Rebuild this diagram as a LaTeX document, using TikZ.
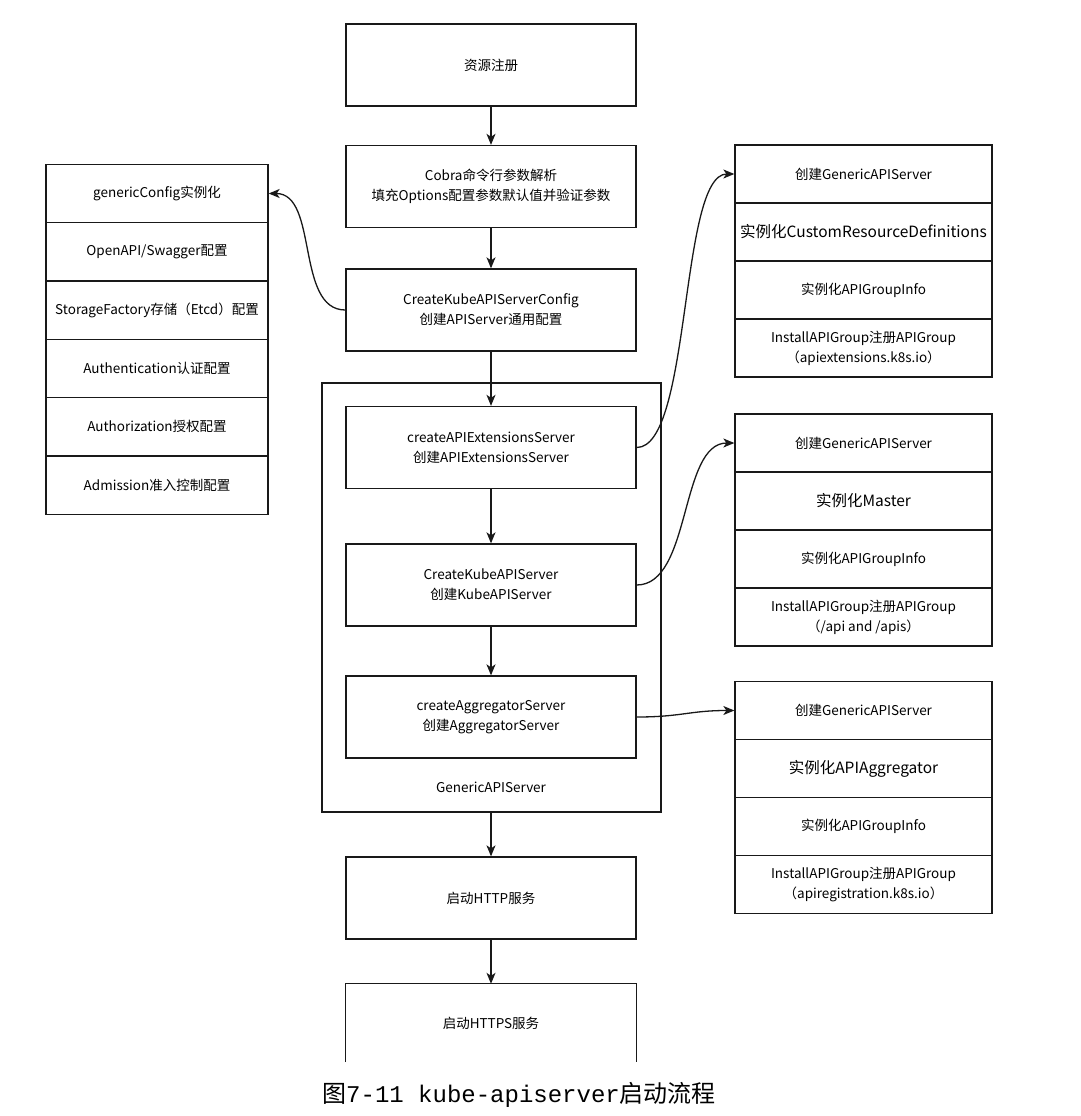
\documentclass[tikz,border=0pt]{standalone}
\usepackage{fontspec}
\setmainfont{Noto Sans CJK SC}
\newfontfamily\capcjk{Noto Sans CJK SC}
\newfontfamily\capmono{Liberation Mono}
\usetikzlibrary{arrows.meta}
\tikzset{
  lw/.style={line width=1.3pt, draw=black!90},
  txt/.style={font=\fontsize{13.5}{20}\selectfont},
  bigtxt/.style={font=\fontsize{15.5}{20}\selectfont},
  mainbox/.style={lw, txt, minimum width=290pt, minimum height=82pt, inner sep=0pt, align=center},
  lrow/.style={lw, txt, minimum width=222pt, minimum height=58.3pt, inner sep=0pt, align=center},
  rrow/.style={lw, txt, minimum width=257pt, minimum height=58pt, inner sep=0pt, align=center},
  arr/.style={lw, -{Stealth[length=11pt,width=9pt,inset=3pt]}},
}
\begin{document}
\begin{tikzpicture}[x=1pt,y=-1pt]
\useasboundingbox (0,0) rectangle (1081,1116);
% main column
\node[mainbox] (b1) at (491,65) {资源注册};
\node[mainbox] (b2) at (491,186.5) {Cobra命令行参数解析\\填充Options配置参数默认值并验证参数};
\node[mainbox] (b3) at (491,310) {CreateKubeAPIServerConfig\\创建APIServer通用配置};
\node[lw, minimum width=339pt, minimum height=429pt, inner sep=0pt] (cont) at (491.5,597.5) {};
\node[txt] (contlbl) at (491,787) {GenericAPIServer};
\node[mainbox] (ba) at (491,447.5) {createAPIExtensionsServer\\创建APIExtensionsServer};
\node[mainbox] (bb) at (491,585) {CreateKubeAPIServer\\创建KubeAPIServer};
\node[mainbox] (bc) at (491,717) {createAggregatorServer\\创建AggregatorServer};
\node[mainbox] (http) at (491,898) {启动HTTP服务};
\node[txt, minimum width=290pt, minimum height=78pt, inner sep=0pt] (https) at (491,1023) {启动HTTPS服务};
\draw[lw] (https.south west) -- (https.north west) -- (https.north east) -- (https.south east);
% left column
\node[lrow] (l1) at (157,193.5) {genericConfig实例化};
\node[lrow] (l2) at (157,251.8) {OpenAPI/Swagger配置};
\node[lrow] (l3) at (157,310.1) {StorageFactory存储（Etcd）配置};
\node[lrow] (l4) at (157,368.4) {Authentication认证配置};
\node[lrow] (l5) at (157,426.7) {Authorization授权配置};
\node[lrow] (l6) at (157,485) {Admission准入控制配置};
% right group 1
\node[rrow] (r11) at (863.5,174) {创建GenericAPIServer};
\node[rrow, bigtxt] (r12) at (863.5,232) {实例化CustomResourceDefinitions};
\node[rrow] (r13) at (863.5,290) {实例化APIGroupInfo};
\node[rrow] (r14) at (863.5,348) {InstallAPIGroup注册APIGroup\\（apiextensions.k8s.io）};
% right group 2
\node[rrow] (r21) at (863.5,443) {创建GenericAPIServer};
\node[rrow, bigtxt] (r22) at (863.5,501) {实例化Master};
\node[rrow] (r23) at (863.5,559) {实例化APIGroupInfo};
\node[rrow] (r24) at (863.5,617) {InstallAPIGroup注册APIGroup\\（/api and /apis）};
% right group 3
\node[rrow] (r31) at (863.5,710.5) {创建GenericAPIServer};
\node[rrow, bigtxt] (r32) at (863.5,768.5) {实例化APIAggregator};
\node[rrow] (r33) at (863.5,826.5) {实例化APIGroupInfo};
\node[rrow] (r34) at (863.5,884.5) {InstallAPIGroup注册APIGroup\\（apiregistration.k8s.io）};
% vertical arrows
\draw[arr] (b1) -- (b2);
\draw[arr] (b2) -- (b3);
\draw[arr] (b3) -- (ba);
\draw[arr] (ba) -- (bb);
\draw[arr] (bb) -- (bc);
\draw[arr] (cont.south -| http.north) -- (http);
\draw[arr] (http) -- (https.north);
% curved arrows
\draw[arr] (b3.west) .. controls +(-50,0) and +(50,0) .. (l1.east);
\draw[arr] (ba.east) .. controls +(55,0) and +(-55,0) .. (r11.west);
\draw[arr] (bb.east) .. controls +(55,0) and +(-55,0) .. (r21.west);
\draw[arr] (bc.east) .. controls +(45,0) and +(-45,0) .. (r31.west);
% caption
\node[anchor=west, inner sep=0pt] (cap) at (322,1095) {\fontsize{24}{28}\selectfont\capcjk 图\capmono 7-11 kube-apiserver\capcjk 启动流程};
\end{tikzpicture}
\end{document}
